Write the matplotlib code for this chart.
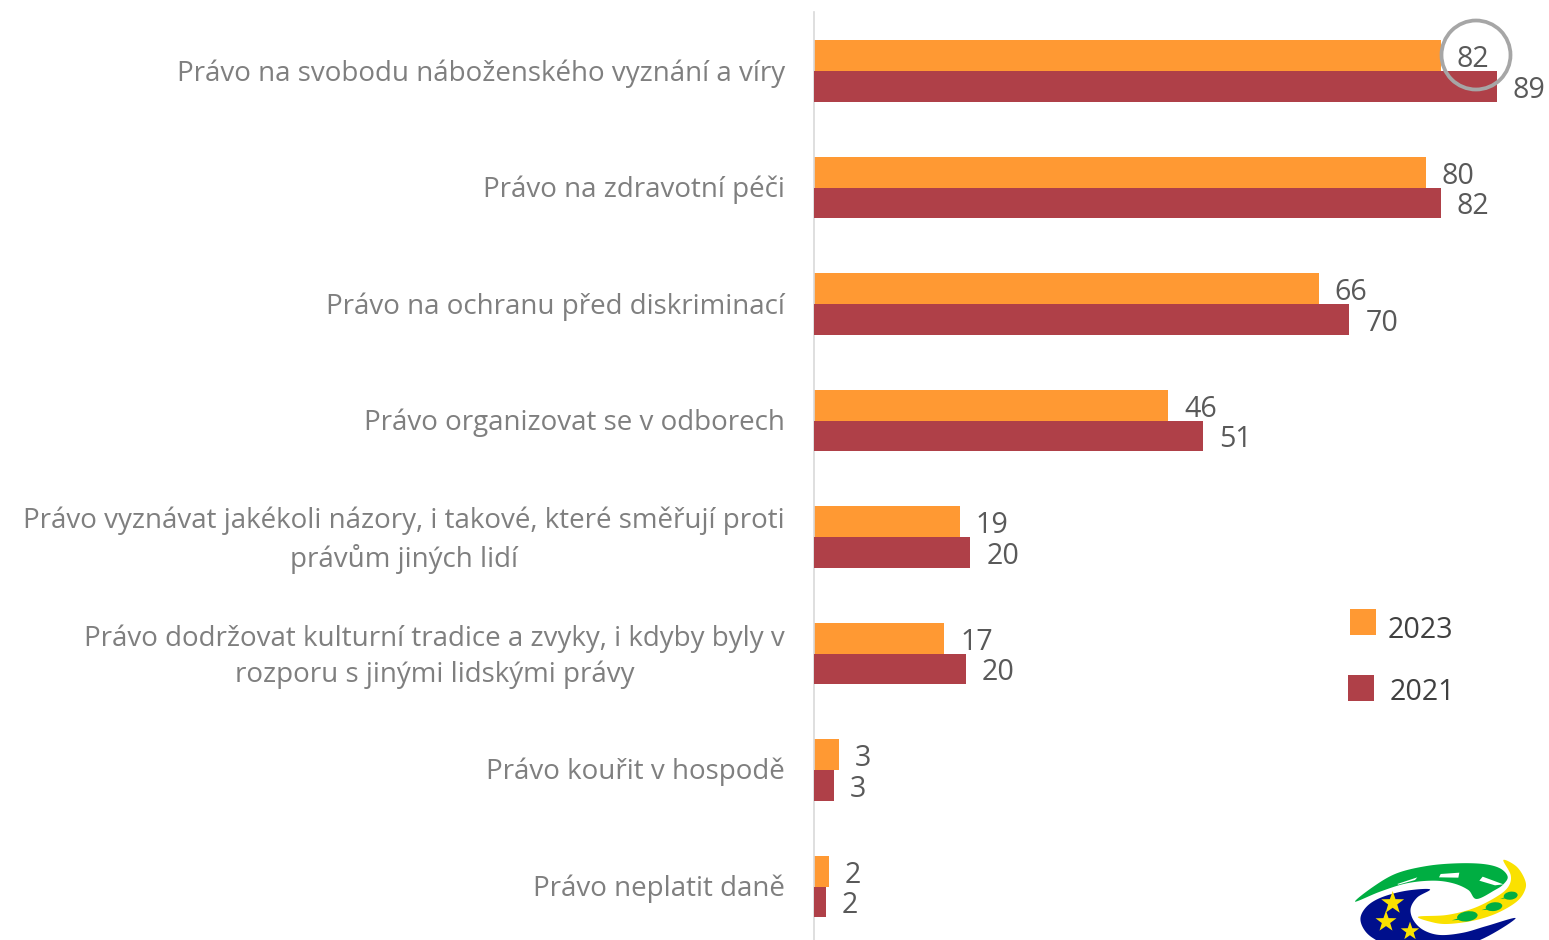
import matplotlib
matplotlib.use("Agg")
import matplotlib.pyplot as plt
from matplotlib.patches import Circle, Rectangle, Polygon, Ellipse
from matplotlib.transforms import ScaledTranslation
import numpy as np

categories = [
    "Právo na svobodu náboženského vyznání a víry",
    "Právo na zdravotní péči",
    "Právo na ochranu před diskriminací",
    "Právo organizovat se v odborech",
    "Právo vyznávat jakékoli názory, i takové, které směřují proti\nprávům jiných lidí",
    "Právo dodržovat kulturní tradice a zvyky, i kdyby byly v\nrozporu s jinými lidskými právy",
    "Právo kouřit v hospodě",
    "Právo neplatit daně",
]
values_2023 = [82, 80, 66, 46.3, 19, 17, 3.2, 1.9]
values_2021 = [89.3, 82, 70, 50.9, 20.4, 19.8, 2.5, 1.5]
labels_2023 = [82, 80, 66, 46, 19, 17, 3, 2]
labels_2021 = [89, 82, 70, 51, 20, 20, 3, 2]
series_names = ["2023", "2021"]

W, H = 1549, 940
FONT = "Open Sans"
plt.rcParams["font.family"] = [FONT, "DejaVu Sans"]
C23, C21 = "#FF9933", "#AF4048"

fig = plt.figure(figsize=(W / 100, H / 100), dpi=100, facecolor="white")
L, T = 814.5, 12.0
ax = fig.add_axes([L / W, 0, (W - L) / W, (H - T) / H])
ax.patch.set_alpha(0)
ax.set_xlim(0, (W - L) / 7.64)
ax.set_ylim((H - 71) / 116.5, (T - 71) / 116.5)

ov = fig.add_axes([0, 0, 1, 1], zorder=-1)
ov.set_xlim(0, W)
ov.set_ylim(H, 0)
ov.axis("off")

y = np.arange(len(categories))
h = 0.262
ax.barh(y - h / 2, values_2023, h, color=C23, zorder=1)
ax.barh(y + h / 2, values_2021, h, color=C21, zorder=3)

ax.add_patch(Circle((1476, 55), 34.5, transform=ov.transData, fc="white", ec="none", zorder=2, clip_on=False))
ax.add_patch(Circle((1476, 55), 34.5, transform=ov.transData, fc="none", ec="#A6A6A6", lw=2.7, zorder=4, clip_on=False))

for i in y:
    ax.annotate(str(labels_2023[i]), (values_2023[i], i - h / 2), xytext=(11.5, -2.8), textcoords="offset points",
                va="center", ha="left", fontsize=20.6, color="#595959", zorder=5, annotation_clip=False)
    ax.annotate(str(labels_2021[i]), (values_2021[i], i + h / 2), xytext=(11.5, -2.8), textcoords="offset points",
                va="center", ha="left", fontsize=20.6, color="#595959", zorder=5, annotation_clip=False)

ax.set_yticks(y)
ax.set_yticklabels(categories, fontsize=20.0, color="#7F7F7F", multialignment="center", linespacing=1.37)
ax.tick_params(axis="y", length=0, pad=21.5)
for t in ax.get_yticklabels():
    up = 3.1 if "\n" in t.get_text() else 0.9
    t.set_transform(t.get_transform() + ScaledTranslation(0, up / 72, fig.dpi_scale_trans))
ax.set_xticks([])
for s in ["top", "right", "bottom"]:
    ax.spines[s].set_visible(False)
ax.spines["left"].set_color("#D9D9D9")
ax.spines["left"].set_linewidth(1.2)

ov2 = fig.add_axes([0, 0, 1, 1], zorder=5)
ov2.set_xlim(0, W)
ov2.set_ylim(H, 0)
ov2.axis("off")
ov2.add_patch(Rectangle((1350, 609), 26, 26, fc=C23, ec="none"))
ov2.add_patch(Rectangle((1348, 675), 26, 26, fc=C21, ec="none"))
ov2.text(1388, 630, series_names[0], fontsize=20.6, color="#404040", va="center", ha="left")
ov2.text(1389.5, 693, series_names[1], fontsize=20.6, color="#404040", va="center", ha="left")


def to_px(p):
    p = np.asarray(p, float)
    return np.c_[1340 + p[:, 0] / 3, 840 + p[:, 1] / 3]


def blob(pts, color, z=1):
    """Closed Catmull-Rom outline through pts (zoom-crop coordinates)."""
    p = to_px(pts)
    n = len(p)
    out = []
    for i in range(n):
        p0, p1, p2, p3 = p[i - 1], p[i], p[(i + 1) % n], p[(i + 2) % n]
        for t in np.linspace(0, 1, 10, endpoint=False):
            out.append(0.5 * (2 * p1 + (p2 - p0) * t + (2 * p0 - 5 * p1 + 4 * p2 - p3) * t ** 2
                              + (3 * p1 - p0 - 3 * p2 + p3) * t ** 3))
    ov2.add_patch(Polygon(out, closed=True, fc=color, ec="none", zorder=z, clip_on=True))


def poly(pts, color, z=3):
    ov2.add_patch(Polygon(to_px(pts), closed=True, fc=color, ec="none", zorder=z))


blob([(45, 185), (100, 140), (170, 100), (260, 78), (350, 70), (430, 72), (480, 85), (503, 110), (490, 133),
      (465, 150), (410, 177), (385, 150), (340, 130), (280, 122), (200, 130), (120, 155)], "#00AE42", 1)
blob([(270, 148), (200, 152), (130, 170), (85, 195), (62, 230), (70, 265), (100, 295), (160, 320), (300, 330),
      (420, 300), (527, 235), (440, 258), (370, 278), (300, 285), (250, 270), (220, 240), (212, 205), (232, 172)],
     "#000F8C", 1)
blob([(490, 60), (530, 80), (555, 120), (555, 150), (530, 185), (470, 220), (400, 242), (320, 252), (270, 245),
      (235, 230), (320, 225), (400, 205), (470, 170), (505, 140), (512, 105)], "#FAE100", 2)
poly([(172, 132), (232, 112), (225, 120), (175, 134)], "white")
poly([(297, 112), (302, 102), (358, 98), (355, 113)], "white")
poly([(418, 122), (428, 110), (490, 133), (465, 136)], "white")


def star(cx, cy, r):
    a = np.deg2rad(np.arange(10) * 36 - 90)
    rr = np.where(np.arange(10) % 2 == 0, r, r * 0.4)
    poly(np.c_[cx + rr * np.cos(a), cy + rr * np.sin(a)], "#FAE100")


star(158, 189, 36)
star(138, 245, 33)
star(210, 274, 29)


def tree(cx, cy, w, hh):
    c = to_px([(cx, cy)])[0]
    ov2.add_patch(Ellipse(c, w / 3, hh / 3, angle=-8, fc="#00AE42", ec="none", zorder=3))
    poly([(cx - 0.75 * w, cy + 0.4 * hh), (cx - 0.1 * w, cy), (cx, cy + 0.3 * hh)], "#00AE42")


tree(382, 229, 62, 30)
tree(462, 200, 50, 26)
tree(512, 167, 42, 24)

fig.savefig("out.png", dpi=100, facecolor="white")
